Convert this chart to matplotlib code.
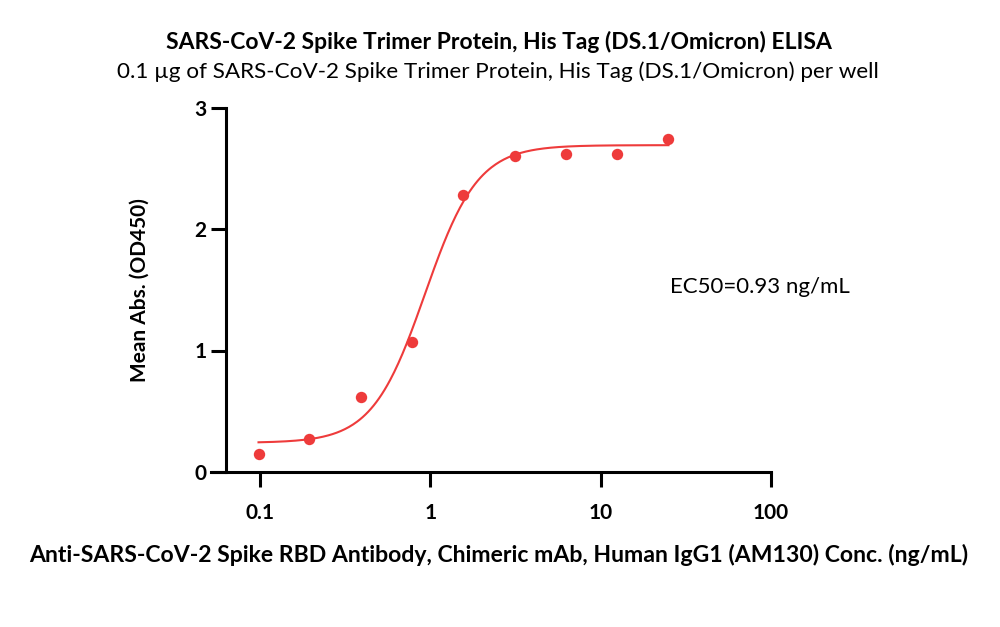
import numpy as np
import matplotlib
matplotlib.use("Agg")
import matplotlib.pyplot as plt

conc = [0.098, 0.195, 0.39, 0.78, 1.5625, 3.125, 6.25, 12.5, 25.0]
od450 = [0.15, 0.27, 0.62, 1.07, 2.28, 2.60, 2.62, 2.62, 2.74]
# 4PL fit parameters
bottom, top, ec50, hill = 0.24, 2.69, 0.93, 2.8
xticks = [0.1, 1, 10, 100]
xticklabels = ["0.1", "1", "10", "100"]
yticks = [0, 1, 2, 3]

plt.rcParams['font.family'] = ['Lato', 'DejaVu Sans']
red = '#EE3B3B'

fig = plt.figure(figsize=(10, 6.27), dpi=100)
dec = 170.3
ax = fig.add_axes([0.2107, 1 - 472 / 627, (771 - 210.7) / 1000, (472 - 107.5) / 627])

xs = np.logspace(np.log10(conc[0]), np.log10(conc[-1]), 300)
ys = bottom + (top - bottom) / (1 + (ec50 / xs) ** hill)
ax.plot(xs, ys, color=red, lw=1.5, zorder=2)
ax.plot(conc, od450, 'o', color=red, ms=8.2, mec='none', zorder=3)

ax.set_xscale('log')
ax.set_xlim(10 ** (-1 - (260 - 210.7) / dec), 100)
ax.set_ylim(0, 3)
ax.spines['top'].set_visible(False)
ax.spines['right'].set_visible(False)
ax.spines['left'].set_position(('data', 10 ** (-1 - (260 - 225.8) / dec)))
for s in ['left', 'bottom']:
    ax.spines[s].set_linewidth(2.2)
    ax.spines[s].set_capstyle('projecting')
ax.set_xticks(xticks)
ax.set_xticklabels(xticklabels)
ax.xaxis.set_minor_locator(matplotlib.ticker.NullLocator())
ax.set_yticks(yticks)
ax.tick_params(axis='both', width=2.2, length=11, labelsize=15)
ax.tick_params(axis='x', pad=11)
ax.tick_params(axis='y', pad=3)
for lab in ax.get_xticklabels() + ax.get_yticklabels():
    lab.set_fontweight('bold')
ax.patch.set_alpha(0)

ax.set_ylabel('Mean Abs. (OD450)', fontsize=15, fontweight='bold', labelpad=32)
fig.text(0.4985, 1 - 555 / 627, 'Anti-SARS-CoV-2 Spike RBD Antibody, Chimeric mAb, Human IgG1 (AM130) Conc. (ng/mL)',
         ha='center', va='center', fontsize=16.6, fontweight='bold')
fig.text(0.499, 1 - 42 / 627, 'SARS-CoV-2 Spike Trimer Protein, His Tag (DS.1/Omicron) ELISA',
         ha='center', va='center', fontsize=16.5, fontweight='bold')
fig.text(0.498, 1 - 72 / 627, '0.1 µg of SARS-CoV-2 Spike Trimer Protein, His Tag (DS.1/Omicron) per well',
         ha='center', va='center', fontsize=16.2)
fig.text(0.670, 1 - 287 / 627, 'EC50=0.93 ng/mL', ha='left', va='center', fontsize=16)

fig.savefig('out.png', dpi=100)
